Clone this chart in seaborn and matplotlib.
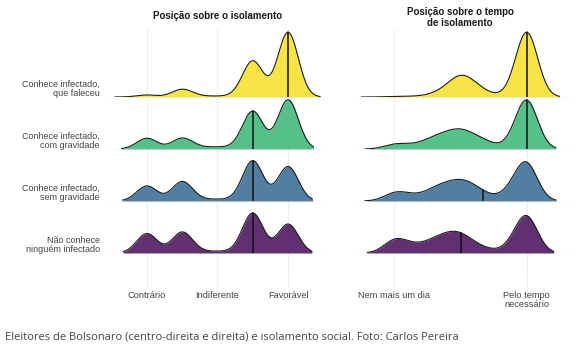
import numpy as np
import pandas as pd
import matplotlib
matplotlib.use("Agg")
import matplotlib.pyplot as plt
import seaborn as sns

# ---------------- data ----------------
grupos = ["Conhece infectado,\nque faleceu",
          "Conhece infectado,\ncom gravidade",
          "Conhece infectado,\nsem gravidade",
          "Não conhece\nninguém infectado"]
cores = ["#F8E444", "#56C089", "#517FA2", "#613070"]

# Panel 1: position on isolation (1 = Contrário, 2 = Indiferente, 3 = Favorável)
pos_isolamento = [1.0, 1.5, 1.75, 2.0, 2.25, 2.5, 3.0]
peso_iso_faleceu   = [2.0, 7.7, 0.6, 0.7, 0.6, 36.0, 64.7]
peso_iso_gravidade = [10.7, 10.7, 1.2, 1.6, 1.0, 37.5, 49.0]
peso_iso_sem_grav  = [15.0, 19.3, 1.0, 1.4, 0.8, 40.0, 34.3]
peso_iso_ninguem   = [19.3, 20.7, 1.0, 1.4, 0.8, 39.6, 28.7]
mediana_iso = [3.0, 2.5, 2.5, 2.5]
ticks_iso = [1, 2, 3]
rotulos_iso = ["Contrário", "Indiferente", "Favorável"]
titulo_iso = "Posição sobre o isolamento"

# Panel 2: position on isolation time (0 = Nem mais um dia ... 10 = Pelo tempo necessário)
pos_tempo = [0, 1, 2, 3, 4, 5, 6, 7, 8, 9, 10]
peso_tempo_faleceu   = [0.4, 0.3, 0.5, 1.5, 5.5, 15.0, 8.0, 2.0, 0.3, 2.0, 63.5]
peso_tempo_gravidade = [4.0, 2.0, 3.0, 7.0, 9.0, 12.0, 7.5, 4.5, 0.2, 4.0, 48.0]
peso_tempo_sem_grav  = [7.0, 4.0, 2.5, 8.0, 10.0, 12.5, 9.5, 3.0, 1.5, 9.0, 36.0]
peso_tempo_ninguem   = [11.5, 5.0, 4.0, 8.0, 11.0, 12.5, 5.0, 2.5, 0.2, 6.0, 35.0]
mediana_tempo = [10.0, 10.0, 6.7, 5.04]
ticks_tempo = [0, 10]
rotulos_tempo = ["Nem mais um dia", "Pelo tempo\nnecessário"]
titulo_tempo = "Posição sobre o tempo\nde isolamento"

legenda = "Eleitores de Bolsonaro (centro-direita e direita) e isolamento social. Foto: Carlos Pereira"

# ---------------- style / layout ----------------
sns.set_theme(style="white")
plt.rcParams['font.family'] = ['Liberation Sans', 'DejaVu Sans']

W, H = 581, 354
fig = plt.figure(figsize=(W / 100, H / 100), dpi=100)
fig.patch.set_facecolor("white")


def box(x0, y0, x1, y1):
    """pixel box (top-left origin) -> figure fraction rect"""
    return [x0 / W, 1 - y1 / H, (x1 - x0) / W, (y1 - y0) / H]


baselines = [97, 149, 201, 253]
row_h = 66
peak_px = 64.7
txt_col = "#444444"

paineis = [
    dict(pos=pos_isolamento,
         pesos=[peso_iso_faleceu, peso_iso_gravidade, peso_iso_sem_grav, peso_iso_ninguem],
         medianas=mediana_iso, bw=0.145, xlim=(0.42, 3.58), px=(106, 329),
         ticks=ticks_iso, rotulos=rotulos_iso, titulo=titulo_iso, tx=218, ty=16),
    dict(pos=pos_tempo,
         pesos=[peso_tempo_faleceu, peso_tempo_gravidade, peso_tempo_sem_grav, peso_tempo_ninguem],
         medianas=mediana_tempo, bw=0.82, xlim=(-3.4, 13.4), px=(349, 572),
         ticks=ticks_tempo, rotulos=rotulos_tempo, titulo=titulo_tempo, tx=460, ty=17.5),
]

for p in paineis:
    x0, x1 = p["px"]
    bg = fig.add_axes(box(x0, 28, x1, 288))
    bg.set_xlim(*p["xlim"])
    bg.set_ylim(0, 1)
    for t in p["ticks"]:
        bg.axvline(t, color="#d9d9d9", lw=0.8, ls=(0, (1, 1.5)), zorder=0)
    bg.set_xticks(p["ticks"])
    bg.set_xticklabels(p["rotulos"], fontsize=6.7, color=txt_col, linespacing=1.05)
    bg.tick_params(axis="x", length=0, pad=2)
    bg.set_yticks([])
    for s in bg.spines.values():
        s.set_visible(False)
    bg.patch.set_alpha(0)

    fig.text(p["tx"] / W, 1 - p["ty"] / H, p["titulo"], ha="center", va="center",
             fontsize=7, fontweight="bold", color="#1a1a1a", linespacing=1.1)

    axes_rows, tops = [], []
    for i, (w, med, cor) in enumerate(zip(p["pesos"], p["medianas"], cores)):
        yb = baselines[i]
        ax = fig.add_axes(box(x0, yb - row_h, x1, yb))
        ax.patch.set_alpha(0)
        ax.set_xlim(*p["xlim"])
        ax.axhline(0, color="#e3e3e3", lw=0.9, zorder=0)
        df = pd.DataFrame({"valor": p["pos"], "peso": w})
        std = np.sqrt(np.cov(df["valor"], aweights=df["peso"]))
        fator = p["bw"] / std
        sns.kdeplot(data=df, x="valor", weights="peso", bw_method=fator, fill=True,
                    color=cor, alpha=1, linewidth=0, ax=ax, zorder=1)
        sns.kdeplot(data=df, x="valor", weights="peso", bw_method=fator,
                    color="#1a1a1a", lw=0.8, ax=ax, zorder=2)
        line = ax.lines[-1]
        xs, ys = line.get_xdata(), line.get_ydata()
        h = np.interp(med, xs, ys)
        ax.plot([med, med], [0, h], color="#111111", lw=1.1, zorder=3)
        tops.append(ys.max())
        ax.axis("off")
        axes_rows.append(ax)
    top = max(tops) * row_h / peak_px
    for ax in axes_rows:
        ax.set_ylim(0, top)
        ax.set_xlim(*p["xlim"])

for i, g in enumerate(grupos):
    fig.text(100 / W, 1 - (baselines[i] - 8) / H, g, ha="right", va="center",
             fontsize=6.5, color=txt_col, linespacing=1.05)

fig.text(5 / W, 1 - 337 / H, legenda, ha="left", va="center", fontsize=8.0,
         color="#444444", family=["Open Sans", "DejaVu Sans"])

fig.savefig("out.png", dpi=100, facecolor="white")
